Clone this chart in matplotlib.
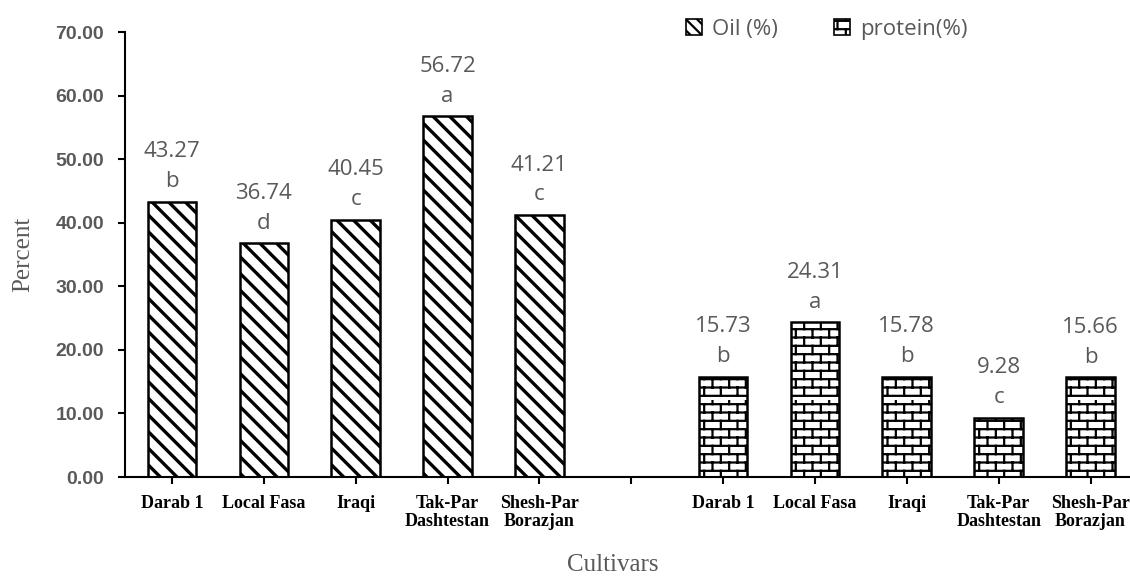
import numpy as np
import matplotlib
matplotlib.use("Agg")
import matplotlib.pyplot as plt
import matplotlib.hatch as mhatch
from matplotlib.path import Path
from matplotlib.patches import Patch

# data
cultivars = ["Darab 1", "Local Fasa", "Iraqi", "Tak-Par\nDashtestan", "Shesh-Par\nBorazjan"]
oil = [43.27, 36.74, 40.45, 56.72, 41.21]
oil_letters = ["b", "d", "c", "a", "c"]
protein = [15.73, 24.31, 15.78, 9.28, 15.66]
protein_letters = ["b", "a", "b", "c", "b"]


# brick hatch, takes the place of '*'
class BrickHatch(mhatch.HatchPatternBase):
    rows = 12
    cols = 6

    def __init__(self, hatch, density):
        self.on = hatch.count('*') > 0
        if self.on:
            self.num_vertices = 2 * self.rows + 2 * self.rows * self.cols
        else:
            self.num_vertices = 0

    def set_vertices_and_codes(self, vertices, codes):
        h = 1.0 / self.rows
        w = 1.0 / self.cols
        i = 0
        for r in range(self.rows):
            y = (r + 0.5) * h
            vertices[i] = (0.0, y)
            vertices[i + 1] = (1.0, y)
            codes[i] = Path.MOVETO
            codes[i + 1] = Path.LINETO
            i += 2
        for r in range(self.rows):
            y0 = (r + 0.5) * h
            y1 = y0 + h
            off = (r % 2) * w / 2 + w / 4
            for c in range(self.cols):
                x = c * w + off
                vertices[i] = (x, y0)
                vertices[i + 1] = (x, y1)
                codes[i] = Path.MOVETO
                codes[i + 1] = Path.LINETO
                i += 2


mhatch._hatch_types = [t for t in mhatch._hatch_types if t is not mhatch.Stars] + [BrickHatch]

plt.rcParams['hatch.color'] = 'black'

gray = "#595959"
n = len(cultivars)
x_oil = np.arange(n)
x_pro = np.arange(n) + n + 1
width = 0.53

fig = plt.figure(figsize=(11.3, 5.77), dpi=100)
ax = fig.add_axes([0.1106, 0.1733, 0.8894, 0.7712])

plt.rcParams['hatch.linewidth'] = 2.4
b1 = ax.bar(x_oil, oil, width, color="white", edgecolor="black", linewidth=1.8, hatch="\\\\")
h1 = Patch(facecolor="white", edgecolor="black", hatch="\\\\\\", linewidth=1.2)
plt.rcParams['hatch.linewidth'] = 1.6
b2 = ax.bar(x_pro, protein, width, color="white", edgecolor="black", linewidth=1.8, hatch="*")
h2 = Patch(facecolor="white", edgecolor="black", hatch="*", linewidth=1.2)

for xs, vals, lets in [(x_oil, oil, oil_letters), (x_pro, protein, protein_letters)]:
    for xv, v, l in zip(xs, vals, lets):
        ax.annotate("%.2f\n%s" % (v, l), (xv, v), xytext=(0, 7), textcoords="offset points",
                    ha="center", va="bottom", fontsize=16, color=gray, family="Open Sans",
                    linespacing=1.55)

ax.set_xlim(-0.512, 10.43)
ax.set_ylim(0, 70)
ax.set_yticks(np.arange(0, 71, 10))
ax.set_yticklabels(["%.2f" % t for t in np.arange(0, 71, 10)], fontsize=14,
                   fontweight="bold", color=gray, family="Liberation Sans")
ax.set_xticks(list(x_oil) + [n] + list(x_pro))
ax.set_xticklabels(cultivars + [""] + cultivars, fontsize=13, fontweight="bold",
                   family="Liberation Serif", linespacing=1.05)
ax.tick_params(axis="both", direction="out", length=5, width=1.5, color="black")
ax.tick_params(axis="x", pad=8)
ax.tick_params(axis="y", pad=10)

for s in ["top", "right"]:
    ax.spines[s].set_visible(False)
ax.spines["left"].set_linewidth(1.5)
ax.spines["bottom"].set_linewidth(1.5)

ax.set_ylabel("Percent", fontsize=18, color=gray, family="Liberation Serif")
ax.yaxis.set_label_coords(-0.09, 0.5)
ax.set_xlabel("Cultivars", fontsize=18, color=gray, family="Liberation Serif", va="center")
ax.xaxis.set_label_coords(0.485, -0.198)

leg = ax.legend([h1, h2], ["Oil (%)", "protein(%)"], ncol=2, frameon=False,
                loc="upper left", bbox_to_anchor=(0.538, 1.075), handlelength=0.75,
                handleheight=0.75, handletextpad=0.45, columnspacing=2.5,
                prop={"family": "Open Sans", "size": 16})
for t in leg.get_texts():
    t.set_color(gray)

fig.savefig("out.png", dpi=100)
